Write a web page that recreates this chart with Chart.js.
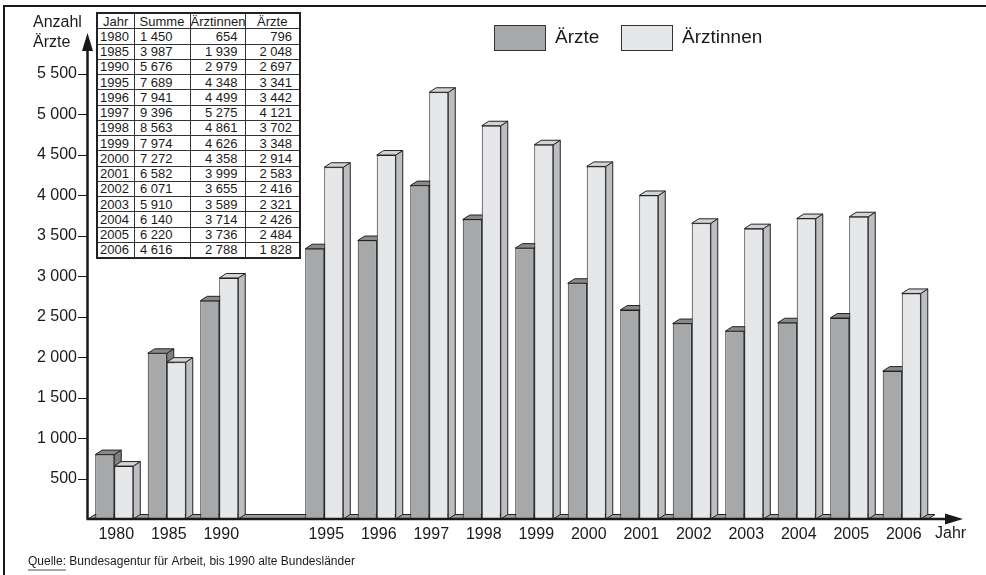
<!DOCTYPE html>
<html lang="de">
<head>
<meta charset="utf-8">
<title>Ärzte und Ärztinnen</title>
<script src="https://cdn.jsdelivr.net/npm/chart.js@4.4.1/dist/chart.umd.min.js"></script>
<style>
  body { margin: 0; background: #fff; }
  #wrap { position: relative; width: 986px; height: 575px; }
  #tabelle {
    position: absolute; left: 96px; top: 12px; width: 203px;
    border-collapse: collapse; table-layout: fixed;
    font-family: "Liberation Sans", Arial, sans-serif; font-size: 13px; color: #1a1a1a;
    background: #fff; border: 2px solid #222;
  }
  #tabelle td, #tabelle th {
    border: 1px solid #333; height: 14.25px; padding: 0; line-height: 13px;
    font-weight: normal; white-space: nowrap; overflow: hidden;
  }
  #tabelle th { text-align: center; }
  #tabelle td { text-align: right; padding-right: 7px; }
  #tabelle td.j { text-align: left; padding-left: 2px; padding-right: 0; }
  #tabelle td.s { padding-right: 17px; }
</style>
</head>
<body>
<div id="wrap">
  <canvas id="grafica" width="986" height="575"></canvas>
  <table id="tabelle">
    <colgroup><col style="width:37px"><col style="width:56px"><col style="width:55px"><col style="width:55px"></colgroup>
    <thead><tr><th>Jahr</th><th>Summe</th><th>Ärztinnen</th><th>Ärzte</th></tr></thead>
    <tbody id="tabBody"></tbody>
  </table>
</div>
<script>
// Kategorien (leerer Platz zwischen 1990 und 1995)
const jahre = ['1980', '1985', '1990', '', '1995', '1996', '1997', '1998', '1999', '2000', '2001', '2002', '2003', '2004', '2005', '2006'];
const aerzte = [796, 2048, 2697, null, 3341, 3442, 4121, 3702, 3348, 2914, 2583, 2416, 2321, 2426, 2484, 1828];
const aerztinnen = [654, 1939, 2979, null, 4348, 4499, 5275, 4861, 4626, 4358, 3999, 3655, 3589, 3714, 3736, 2788];

// Tabelle oben links
const tabJahre = ['1980', '1985', '1990', '1995', '1996', '1997', '1998', '1999', '2000', '2001', '2002', '2003', '2004', '2005', '2006'];
const tabSumme = [1450, 3987, 5676, 7689, 7941, 9396, 8563, 7974, 7272, 6582, 6071, 5910, 6140, 6220, 4616];
const tabAerztinnen = [654, 1939, 2979, 4348, 4499, 5275, 4861, 4626, 4358, 3999, 3655, 3589, 3714, 3736, 2788];
const tabAerzte = [796, 2048, 2697, 3341, 3442, 4121, 3702, 3348, 2914, 2583, 2416, 2321, 2426, 2484, 1828];

const FONT = '"Liberation Sans", Arial, sans-serif';
const DUNKEL = '#a7a8aa', HELL = '#e6e7e9';
const DX = 7, DY = 4.5;

function fmt(v) {
  return String(v).replace(/\B(?=(\d{3})+(?!\d))/g, ' ');
}

const tabBody = document.getElementById('tabBody');
tabJahre.forEach((j, i) => {
  const tr = document.createElement('tr');
  tr.innerHTML = '<td class="j">' + j + '</td><td class="s">' + fmt(tabSumme[i]) + '</td><td>' +
    fmt(tabAerztinnen[i]) + '</td><td>' + fmt(tabAerzte[i]) + '</td>';
  tabBody.appendChild(tr);
});

function poly(ctx, pts, fill) {
  ctx.beginPath();
  ctx.moveTo(pts[0][0], pts[0][1]);
  for (let k = 1; k < pts.length; k++) ctx.lineTo(pts[k][0], pts[k][1]);
  ctx.closePath();
  ctx.fillStyle = fill;
  ctx.fill();
  ctx.stroke();
}

// Boden, Seiten und Deckflächen vor den Vorderseiten zeichnen
const dreiD = {
  id: 'dreiD',
  beforeDatasetsDraw(chart) {
    const ctx = chart.ctx;
    const xs = chart.scales.x;
    const base = chart.scales.y.getPixelForValue(0);
    ctx.save();
    ctx.lineWidth = 1;
    ctx.strokeStyle = '#222';
    poly(ctx, [[xs.left, base], [xs.left + DX, base - DY], [xs.right + DX, base - DY], [xs.right, base]], '#9d9ea0');

    const farben = [['#7e7f81', '#88898b'], ['#bdbec1', '#d3d4d6']];
    chart.data.datasets.forEach((ds, d) => {
      const meta = chart.getDatasetMeta(d);
      meta.data.forEach((el, i) => {
        if (ds.data[i] == null) return;
        const l = el.x - el.width / 2, r = el.x + el.width / 2;
        const t = el.y, b = el.base;
        poly(ctx, [[r, t], [r + DX, t - DY], [r + DX, b - DY], [r, b]], farben[d][0]);
        poly(ctx, [[l, t], [l + DX, t - DY], [r + DX, t - DY], [r, t]], farben[d][1]);
      });
    });
    ctx.restore();
  },
  afterDraw(chart) {
    const ctx = chart.ctx;
    const ys = chart.scales.y;
    const ax = 87.5, base = ys.getPixelForValue(0);
    ctx.save();
    ctx.strokeStyle = '#1a1a1a';
    ctx.fillStyle = '#1a1a1a';

    // Achsen mit Pfeilen
    ctx.lineWidth = 2.5;
    ctx.beginPath();
    ctx.moveTo(ax, base); ctx.lineTo(ax, 48);
    ctx.moveTo(ax - 1, base); ctx.lineTo(948, base);
    ctx.stroke();
    ctx.beginPath();
    ctx.moveTo(ax, 33); ctx.lineTo(ax - 5.5, 51); ctx.lineTo(ax + 5.5, 51); ctx.closePath(); ctx.fill();
    ctx.beginPath();
    ctx.moveTo(963, base); ctx.lineTo(945, base - 5.5); ctx.lineTo(945, base + 5.5); ctx.closePath(); ctx.fill();

    // Teilstriche
    ctx.lineWidth = 1;
    ys.ticks.forEach(t => {
      if (t.value <= 0 || t.value >= 6000) return;
      const py = Math.round(ys.getPixelForValue(t.value)) + 0.5;
      ctx.beginPath(); ctx.moveTo(78, py); ctx.lineTo(ax, py); ctx.stroke();
    });

    // Rahmen (oben und links)
    ctx.lineWidth = 2;
    ctx.beginPath();
    ctx.moveTo(4, 575); ctx.lineTo(4, 6); ctx.lineTo(986, 6);
    ctx.stroke();

    // Achsentitel
    ctx.font = '16px ' + FONT;
    ctx.textBaseline = 'middle';
    ctx.textAlign = 'left';
    ctx.fillText('Anzahl', 33, 23);
    ctx.fillText('Ärzte', 33, 43);
    ctx.fillText('Jahr', 935, 534);

    // Legende
    ctx.lineWidth = 1;
    ctx.strokeStyle = '#333';
    ctx.fillStyle = DUNKEL;
    ctx.fillRect(494.5, 25.5, 51, 25); ctx.strokeRect(494.5, 25.5, 51, 25);
    ctx.fillStyle = HELL;
    ctx.fillRect(621.5, 25.5, 51, 25); ctx.strokeRect(621.5, 25.5, 51, 25);
    ctx.fillStyle = '#1a1a1a';
    ctx.font = '19px ' + FONT;
    ctx.fillText('Ärzte', 555, 38);
    ctx.fillText('Ärztinnen', 682, 38);

    // Quelle
    ctx.font = '12px ' + FONT;
    ctx.fillText('Quelle:', 28, 562);
    const qw = ctx.measureText('Quelle:').width;
    ctx.fillText(' Bundesagentur für Arbeit, bis 1990 alte Bundesländer', 28 + qw, 562);
    ctx.strokeStyle = '#888';
    ctx.lineWidth = 1.5;
    ctx.beginPath(); ctx.moveTo(28, 570); ctx.lineTo(28 + qw, 570); ctx.stroke();
    ctx.restore();
  }
};

const grafica = document.getElementById('grafica');
new Chart(grafica, {
  type: 'bar',
  data: {
    labels: jahre,
    datasets: [
      { label: 'Ärzte', data: aerzte, backgroundColor: DUNKEL, borderColor: '#222', borderWidth: 1, borderSkipped: false },
      { label: 'Ärztinnen', data: aerztinnen, backgroundColor: HELL, borderColor: '#222', borderWidth: 1, borderSkipped: false }
    ]
  },
  options: {
    responsive: false,
    animation: false,
    layout: { padding: { left: 0, right: 58, top: 33.6, bottom: 26 } },
    datasets: { bar: { barPercentage: 1, categoryPercentage: 0.724 } },
    plugins: { legend: { display: false }, tooltip: { enabled: false } },
    scales: {
      x: {
        grid: { display: false, drawTicks: false }, border: { display: false },
        ticks: { color: '#1a1a1a', font: { family: FONT, size: 16 }, padding: 6, labelOffset: 2, autoSkip: false, maxRotation: 0 },
        afterFit(s) { s.height = 30; }
      },
      y: {
        min: 0, max: 6000,
        grid: { display: false, drawTicks: false }, border: { display: false },
        ticks: {
          stepSize: 500, color: '#1a1a1a', padding: 11, font: { family: FONT, size: 16 },
          callback: v => (v === 0 || v === 6000) ? '' : fmt(v)
        },
        afterFit(s) { s.width = 88; }
      }
    }
  },
  plugins: [dreiD]
});
</script>
</body>
</html>
